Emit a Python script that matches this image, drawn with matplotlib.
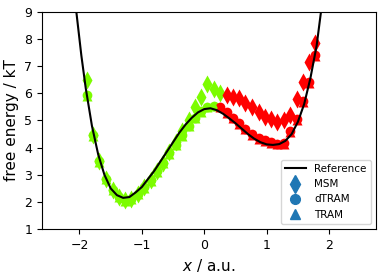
import numpy as np
import matplotlib.pyplot as plt
from matplotlib.lines import Line2D

# reference free energy profile
x_ref = [-2.15, -2.05, -1.97, -1.9, -1.8, -1.7, -1.6, -1.5, -1.4, -1.3, -1.2, -1.1,
         -1.0, -0.9, -0.8, -0.7, -0.6, -0.5, -0.4, -0.3, -0.2, -0.1, 0.0, 0.1, 0.2,
         0.3, 0.4, 0.5, 0.6, 0.7, 0.8, 0.9, 1.0, 1.1, 1.2, 1.3, 1.4, 1.5, 1.6, 1.7,
         1.8, 1.87, 1.95]
f_ref = [10.5, 9.0, 7.4, 6.2, 4.8, 3.75, 3.0, 2.5, 2.25, 2.15, 2.18, 2.35,
         2.55, 2.85, 3.15, 3.5, 3.85, 4.2, 4.55, 4.85, 5.1, 5.3, 5.42, 5.45, 5.38,
         5.25, 5.08, 4.9, 4.7, 4.5, 4.33, 4.2, 4.12, 4.1, 4.13, 4.25, 4.5, 4.95, 5.6, 6.55,
         7.75, 9.0, 10.5]

# bin centres
x_bins = [-1.88, -1.78, -1.68, -1.57, -1.47, -1.37, -1.27, -1.17, -1.07, -0.96,
          -0.86, -0.76, -0.66, -0.56, -0.46, -0.36, -0.25, -0.15, -0.05, 0.05,
          0.15, 0.26, 0.36, 0.46, 0.56, 0.66, 0.76, 0.87, 0.97, 1.07, 1.17, 1.27,
          1.38, 1.48, 1.58, 1.68, 1.78]

f_msm = [6.5, 4.45, 3.5, 2.85, 2.45, 2.2, 2.08, 2.12, 2.3, 2.55,
         2.8, 3.15, 3.45, 3.85, 4.2, 4.6, 5.0, 5.5, 5.88, 6.33,
         6.17, 6.03, 5.94, 5.88, 5.82, 5.63, 5.49, 5.33, 5.14, 5.04, 4.96, 5.02,
         5.2, 5.8, 6.43, 7.17, 7.87]
f_dtram = [5.95, 4.45, 3.5, 2.85, 2.45, 2.2, 2.08, 2.12, 2.3, 2.55,
           2.8, 3.15, 3.45, 3.8, 4.1, 4.45, 4.8, 5.1, 5.35, 5.5,
           5.55, 5.5, 5.3, 5.1, 4.9, 4.7, 4.5, 4.35, 4.27, 4.2, 4.15, 4.17,
           4.6, 5.05, 5.7, 6.4, 7.4]
f_tram = [5.9, 4.42, 3.48, 2.83, 2.43, 2.18, 2.05, 2.1, 2.28, 2.53,
          2.78, 3.12, 3.42, 3.78, 4.08, 4.42, 4.78, 5.08, 5.32, 5.48,
          5.52, 5.48, 5.28, 5.08, 4.88, 4.68, 4.48, 4.33, 4.25, 4.18, 4.12, 4.15,
          4.57, 5.02, 5.68, 6.38, 7.38]

# which bins belong to the left (green) or right (red) state
n_green_msm = 22
n_green_tram = 21

x_bins = np.array(x_bins)
green = 'lawngreen'
red = 'red'

fig, ax = plt.subplots(figsize=(3.82, 2.77), dpi=100)
fig.subplots_adjust(left=0.11, right=0.984, top=0.957, bottom=0.173)

for vals, mk, ms, ng in [(f_msm, 'd', 9, n_green_msm),
                         (f_dtram, 'o', 7, n_green_tram),
                         (f_tram, '^', 7, n_green_tram)]:
    vals = np.array(vals)
    ax.plot(x_bins[:ng], vals[:ng], mk, color=green, ms=ms, mec='none')
    ax.plot(x_bins[ng:], vals[ng:], mk, color=red, ms=ms, mec='none')

ax.plot(x_ref, f_ref, '-', color='black', lw=1.5)

ax.set_xlim(-2.6, 2.75)
ax.set_ylim(1, 9)
ax.set_xticks([-2, -1, 0, 1, 2])
ax.tick_params(labelsize=9)
ax.set_xlabel('$x$ / a.u.', fontsize=11)
ax.set_ylabel('free energy / kT', fontsize=11)

handles = [Line2D([], [], color='black', lw=1.5),
           Line2D([], [], ls='none', marker='d', color='C0', ms=9),
           Line2D([], [], ls='none', marker='o', color='C0', ms=7),
           Line2D([], [], ls='none', marker='^', color='C0', ms=7)]
ax.legend(handles, ['Reference', 'MSM', 'dTRAM', 'TRAM'], loc='lower right',
          fontsize=7.5)

fig.savefig('out.png', dpi=100)
